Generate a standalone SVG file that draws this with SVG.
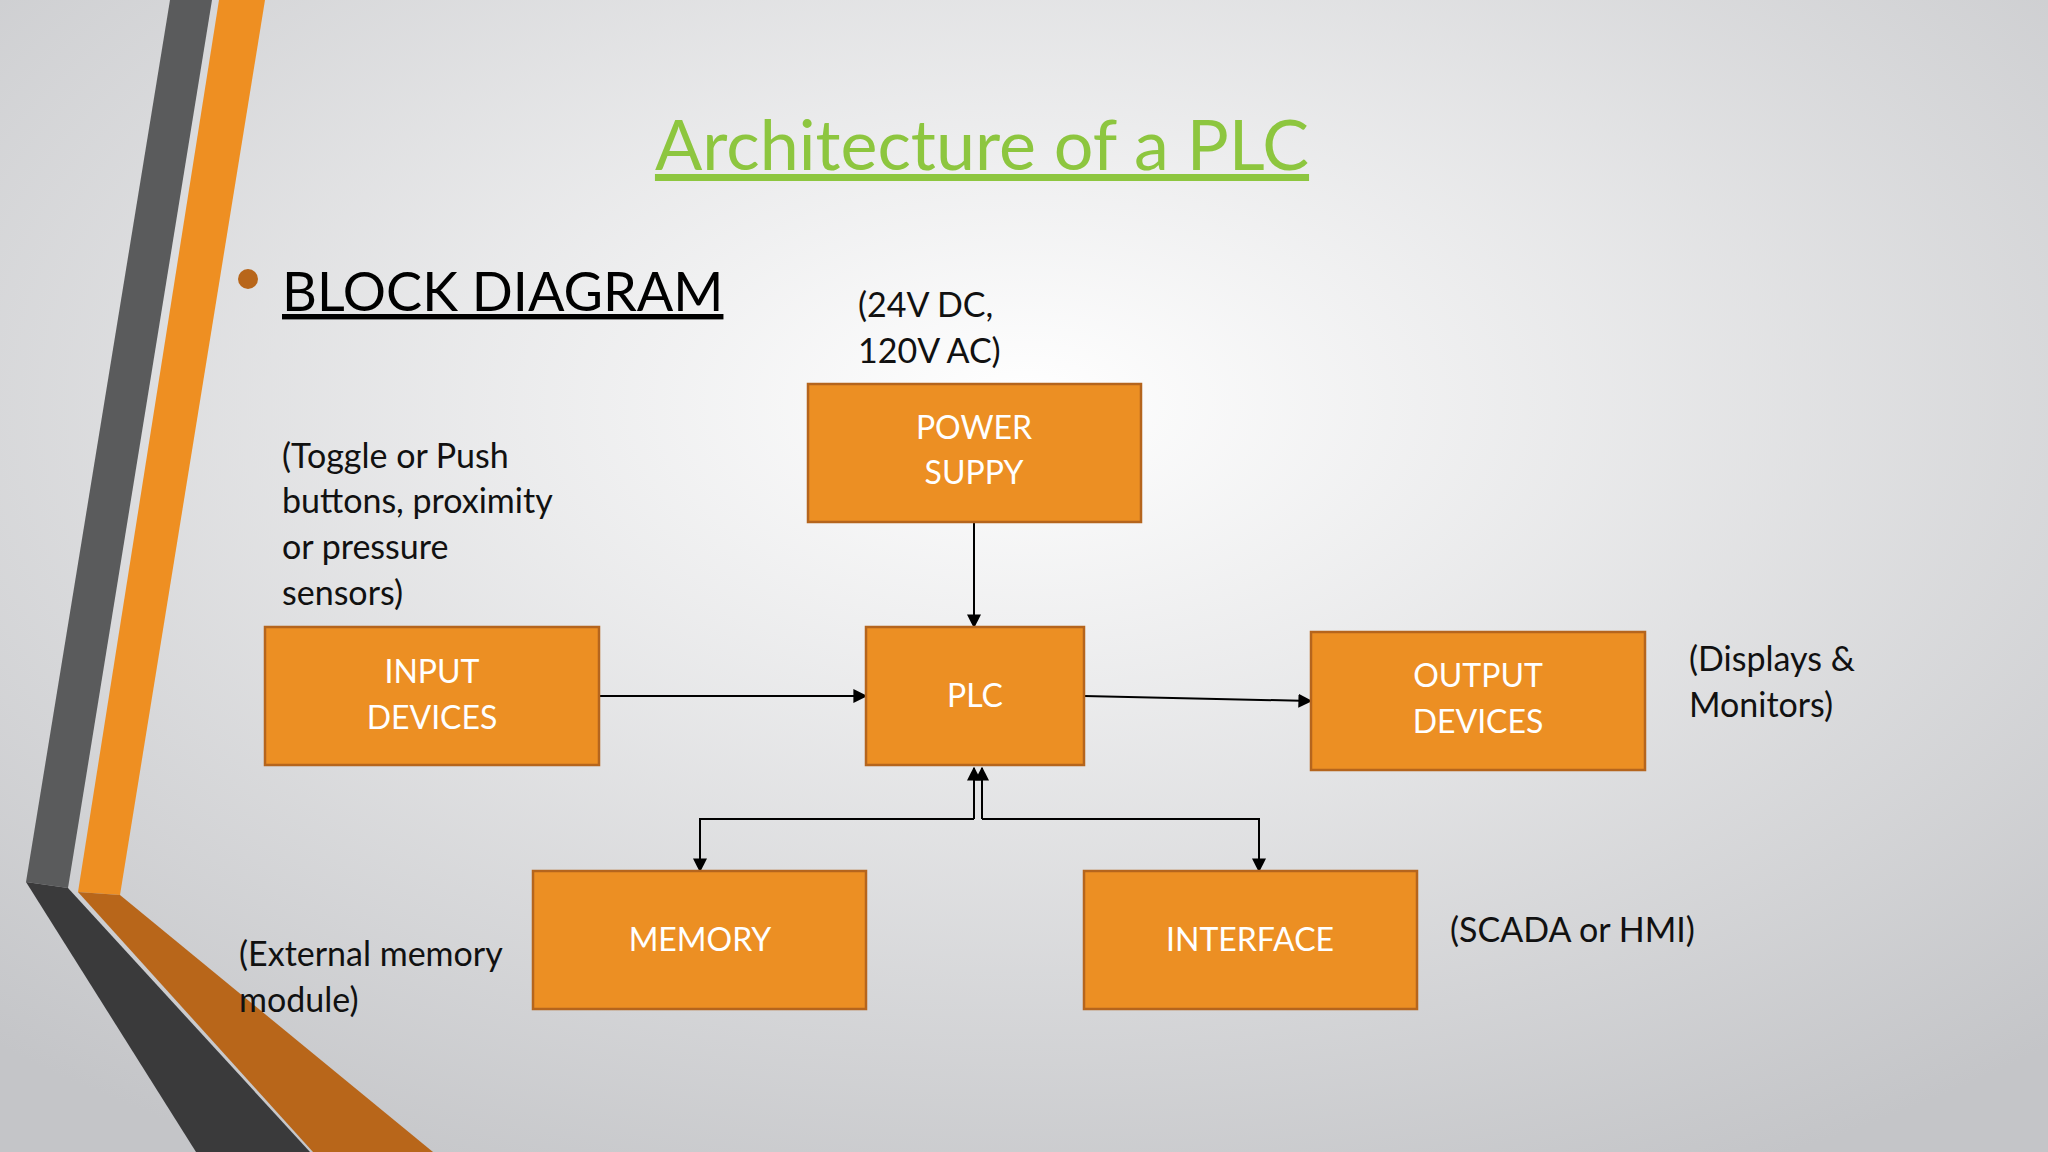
<svg xmlns="http://www.w3.org/2000/svg" width="2048" height="1152" viewBox="0 0 2048 1152">
<defs>
<radialGradient id="bg" cx="0.5" cy="0.35" r="0.75">
<stop offset="0" stop-color="#ffffff"/><stop offset="1" stop-color="#c4c5c8"/>
</radialGradient>
<marker id="ah" viewBox="0 0 10 10" refX="9" refY="5" markerWidth="7" markerHeight="7" orient="auto-start-reverse"><path d="M0,0L10,5L0,10z" fill="#000"/></marker>
</defs>
<style>
.box{fill:#ec8f23;stroke:#b5651d;stroke-width:2.5}
.bt{font-family:Lato,"Open Sans",sans-serif;font-size:32px;fill:#fff;text-anchor:middle}
.ann{font-family:Lato,"Open Sans",sans-serif;font-size:34px;fill:#111}
.c{stroke:#000;stroke-width:2;fill:none;marker-end:url(#ah)}
</style>
<rect width="2048" height="1152" fill="url(#bg)"/>
<polygon points="170,0 212,0 68,888 26,882" fill="#5a5b5c"/>
<polygon points="219,0 265,0 120,895 78,892" fill="#ee8f22"/>
<polygon points="26,882 68,888 310,1152 196,1152" fill="#3a3a3b"/>
<polygon points="78,892 120,895 433,1152 313,1152" fill="#b8661a"/>
<text x="982" y="170" font-family="Lato,'Open Sans',sans-serif" font-size="70" fill="#8dc63f" text-anchor="middle" text-decoration="underline">Architecture of a PLC</text>
<circle cx="248" cy="279" r="10" fill="#b8661a"/>
<text x="282" y="311" font-family="Lato,'Open Sans',sans-serif" font-size="54" fill="#000" text-decoration="underline">BLOCK DIAGRAM</text>
<g id="connectors">
<line class="c" x1="974" y1="522" x2="974" y2="627"/>
<line class="c" x1="599" y1="696" x2="866" y2="696"/>
<line class="c" x1="1084" y1="696" x2="1311" y2="701"/>
<path class="c" d="M974,819 H700 V871"/>
<line x1="974" y1="819" x2="974" y2="768" class="c"/>
<path class="c" d="M982,819 H1259 V871"/>
<line x1="982" y1="819" x2="982" y2="768" class="c"/>
</g>
<g id="power"><rect class="box" x="808" y="384" width="333" height="138"/><text class="bt" x="974" y="439">POWER</text><text class="bt" x="974" y="484">SUPPY</text></g>
<g id="input"><rect class="box" x="265" y="627" width="334" height="138"/><text class="bt" x="432" y="683">INPUT</text><text class="bt" x="432" y="729">DEVICES</text></g>
<g id="plc"><rect class="box" x="866" y="627" width="218" height="138"/><text class="bt" x="975" y="707">PLC</text></g>
<g id="output"><rect class="box" x="1311" y="632" width="334" height="138"/><text class="bt" x="1478" y="687">OUTPUT</text><text class="bt" x="1478" y="733">DEVICES</text></g>
<g id="memory"><rect class="box" x="533" y="871" width="333" height="138"/><text class="bt" x="700" y="951">MEMORY</text></g>
<g id="interface"><rect class="box" x="1084" y="871" width="333" height="138"/><text class="bt" x="1250" y="951">INTERFACE</text></g>
<text class="ann" x="858" y="317">(24V DC,</text><text class="ann" x="858" y="363">120V AC)</text>
<text class="ann" x="282" y="468">(Toggle or Push</text><text class="ann" x="282" y="513">buttons, proximity</text><text class="ann" x="282" y="559">or pressure</text><text class="ann" x="282" y="605">sensors)</text>
<text class="ann" x="1689" y="671">(Displays &amp;</text><text class="ann" x="1689" y="717">Monitors)</text>
<text class="ann" x="1450" y="942">(SCADA or HMI)</text>
<text class="ann" x="239" y="966">(External memory</text><text class="ann" x="239" y="1012">module)</text>
</svg>
